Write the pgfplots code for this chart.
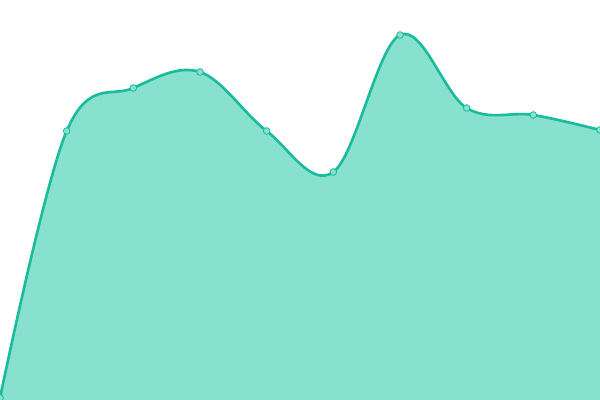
\documentclass[border=0pt]{standalone}
\usepackage{pgfplots}
\pgfplotsset{compat=1.18}
\definecolor{lineteal}{HTML}{1ABC9C}
\definecolor{fillteal}{HTML}{88E0CF}
\begin{document}
\begin{tikzpicture}
\begin{axis}[
    width=6in, height=4in,
    scale only axis,
    hide axis,
    xmin=0, xmax=9,
    ymin=0, ymax=400,
    clip marker paths=true,
]
\addplot[draw=none, fill=fillteal, smooth, tension=0.6] coordinates {
    (0,2) (1,269) (2,312) (3,328) (4,269) (5,228) (6,365) (7,292) (8,285) (9,270)
} \closedcycle;
\addplot[lineteal, line width=1.9pt, smooth, tension=0.6,
    mark=*, mark size=2.4pt,
    mark options={fill=fillteal, draw=lineteal, line width=0.6pt}] coordinates {
    (0,2) (1,269) (2,312) (3,328) (4,269) (5,228) (6,365) (7,292) (8,285) (9,270)
};
\end{axis}
\pgfresetboundingbox
\useasboundingbox (current axis.south west) rectangle (current axis.north east);
\end{tikzpicture}
\end{document}
